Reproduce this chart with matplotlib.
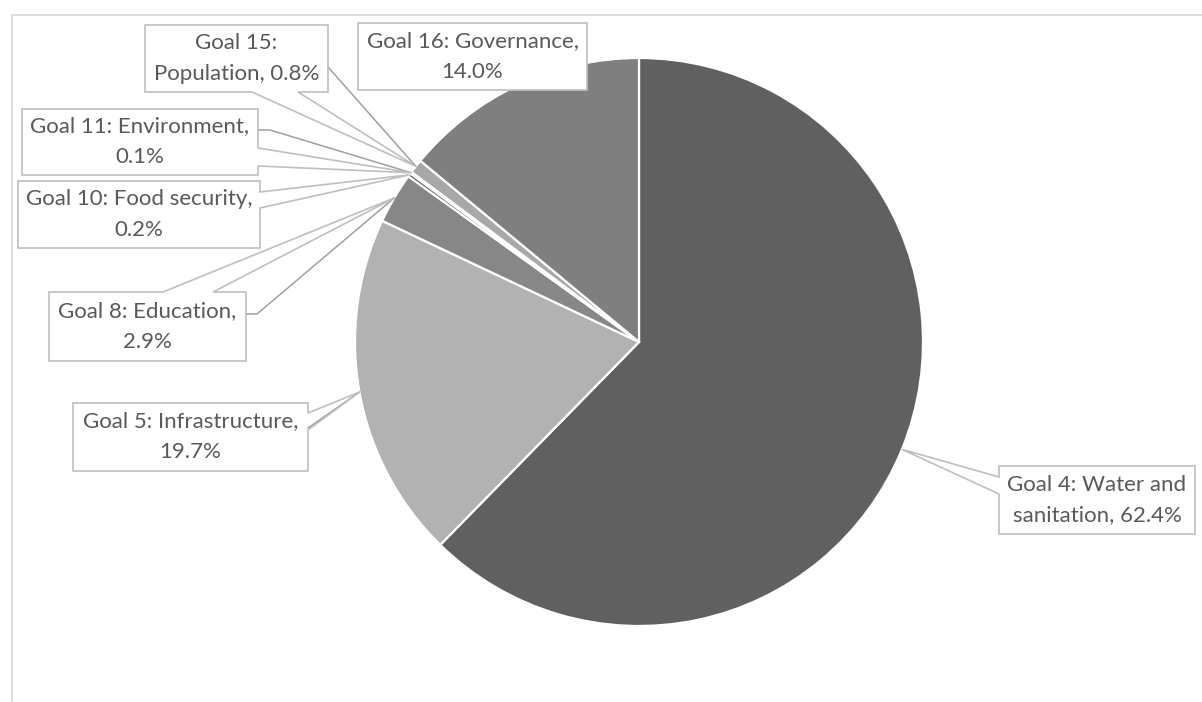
import numpy as np
import matplotlib.pyplot as plt
from matplotlib.patches import Polygon

plt.rcParams['font.family'] = ['Lato', 'DejaVu Sans']

# ============================================================
# Data: share of spending by goal
# ============================================================
shares = [62.4, 19.7, 2.9, 0.2, 0.1, 0.8, 14.0]
label_text = [
    "Goal 4: Water and\nsanitation, 62.4%",
    "Goal 5: Infrastructure,\n19.7%",
    "Goal 8: Education,\n2.9%",
    "Goal 10: Food security,\n0.2%",
    "Goal 11: Environment,\n0.1%",
    "Goal 15:\nPopulation, 0.8%",
    "Goal 16: Governance,\n14.0%",
]
slice_colors = ["#606060", "#b2b2b2", "#878787", "#4f4f4f", "#9a9a9a", "#a8a8a8", "#7f7f7f"]

W, H = 1202, 702


def py(y):
    """screen-style y (from top) -> axes y"""
    return H - y


fig = plt.figure(figsize=(W / 100, H / 100), dpi=100)
ax = fig.add_axes([0, 0, 1, 1])

cx, cy, R = 639, 342, 284
wedges, _ = ax.pie(
    shares,
    colors=slice_colors,
    startangle=90,
    counterclock=False,
    center=(cx, py(cy)),
    radius=R,
    wedgeprops=dict(edgecolor="white", linewidth=1.6),
)
ax.set_xlim(0, W)
ax.set_ylim(0, H)
ax.set_aspect("auto")
ax.axis("off")


def tip_of(w):
    a = np.deg2rad((w.theta1 + w.theta2) / 2)
    return (w.center[0] + w.r * np.cos(a), w.center[1] + w.r * np.sin(a))


# label boxes (x0, y0, x1, y1) in pixels from top-left,
# plus the edge carrying the pointer and where its base sits
boxes = [
    ((999, 466, 1195, 534), "left", (477, 494)),
    ((73, 403, 308, 471), "right", (413, 430)),
    ((49, 292, 246, 361), "top", (163, 213)),
    ((18, 181, 260, 248), "right", (192, 208)),
    ((22, 109, 258, 175), "right", (148, 166)),
    ((145, 25, 328, 92), "bottom", (252, 298)),
    ((358, 23, 587, 90), None, None),
]

# darker leader lines: (slice index, points from the box outwards)
leaders = [
    (1, [(308, 428)]),
    (2, [(246, 314), (257, 314)]),
    (4, [(258, 130), (270, 130)]),
    (5, [(328, 67)]),
]

box_edge = "#bfbfbf"
polys = []
for i, ((x0, y0, x1, y1), side, base) in enumerate(boxes):
    tip = tip_of(wedges[i])
    pts = [(x0, py(y0))]
    if side == "top":
        pts += [(base[0], py(y0)), tip, (base[1], py(y0))]
    pts.append((x1, py(y0)))
    if side == "right":
        pts += [(x1, py(base[0])), tip, (x1, py(base[1]))]
    pts.append((x1, py(y1)))
    if side == "bottom":
        pts += [(base[1], py(y1)), tip, (base[0], py(y1))]
    pts.append((x0, py(y1)))
    if side == "left":
        pts += [(x0, py(base[1])), tip, (x0, py(base[0]))]
    polys.append(pts)

    ax.add_patch(Polygon(pts, closed=True, facecolor="white", edgecolor="none", zorder=3))
    ax.text((x0 + x1) / 2, py((y0 + y1) / 2), label_text[i], ha="center", va="center",
            fontsize=16, color="#595959", linespacing=1.68, zorder=6)

for pts in polys:
    ax.add_patch(Polygon(pts, closed=True, facecolor="none", edgecolor=box_edge,
                         linewidth=1.2, zorder=5))

for idx, pts in leaders:
    tx, ty = tip_of(wedges[idx])
    xs = [p[0] for p in pts] + [tx]
    ys = [py(p[1]) for p in pts] + [ty]
    ax.plot(xs, ys, color="#a0a0a0", linewidth=1.1, zorder=4)

# chart area frame (only top and left edges fall inside the image)
ax.plot([12, W], [py(15), py(15)], color="#d9d9d9", linewidth=1.3, zorder=1)
ax.plot([12, 12], [py(15), 0], color="#d9d9d9", linewidth=1.3, zorder=1)

fig.savefig("out.png", dpi=100)
